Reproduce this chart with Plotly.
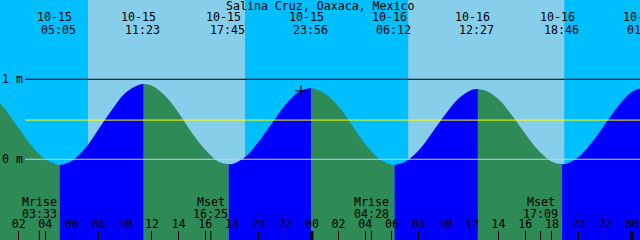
import plotly.graph_objects as go

# ---------------- data ----------------
title = "Salina Cruz, Oaxaca, Mexico"

# hours since 10-15 00:00 local, tide level (m)
hours = list(range(0, 50))
level = [0.81, 0.62, 0.39, 0.16, 0.00, -0.07, -0.02, 0.14, 0.38, 0.62,
         0.83, 0.93, 0.92, 0.79, 0.58, 0.33, 0.12, -0.03, -0.06, 0.03,
         0.22, 0.45, 0.68, 0.84, 0.89, 0.82, 0.66, 0.43, 0.19, 0.01,
         -0.07, -0.03, 0.11, 0.33, 0.56, 0.76, 0.87, 0.86, 0.75, 0.55,
         0.32, 0.11, -0.03, -0.06, 0.03, 0.21, 0.44, 0.67, 0.84, 0.90]

# high / low waters
ext_time = [5.083, 11.383, 17.75, 23.933, 30.2, 36.45, 42.767, 49.05]
ext_level = [-0.07, 0.94, -0.06, 0.89, -0.07, 0.88, -0.06, 0.90]
ext_date = ["10-15", "10-15", "10-15", "10-15", "10-16", "10-16", "10-16", "10-17"]
ext_clock = ["05:05", "11:23", "17:45", "23:56", "06:12", "12:27", "18:46", "01:03"]

# sun
sunrise = [7.20, 31.22]
sunset = [18.98, 42.93]

# moon
moon_time = [3.55, 16.417, 28.467, 41.15]
moon_kind = ["Mrise", "Mset", "Mrise", "Mset"]
moon_clock = ["03:33", "16:25", "04:28", "17:09"]

# reference levels
mean_level = 0.49
datum_levels = [0, 1]
datum_labels = ["0 m", "1 m"]

# current time marker
now_time = 23.17
now_level = 0.855

# hour ticks
tick_hours = [2, 4, 6, 8, 10, 12, 14, 16, 18, 20, 22, 24,
              26, 28, 30, 32, 34, 36, 38, 40, 42, 44, 46, 48]
tick_text = ["02", "04", "06", "08", "10", "12", "14", "16", "18", "20", "22", "00",
             "02", "04", "06", "08", "10", "12", "14", "16", "18", "20", "22", "00"]
midnights = [24, 48]

# ---------------- styles ----------------
NIGHT = "#00BFFF"
DAY = "#87CEEB"
FLOOD = "#0000FF"
EBB = "#2E8B57"
FONT = dict(family="DejaVu Sans Mono", size=11.6, color="black")
W, H = 640, 240
X_RANGE = [0.60, 48.61]
Y_RANGE = [-1.009, 1.991]
BASE = -2.0
PX_PER_HOUR = W / (X_RANGE[1] - X_RANGE[0])

fig = go.Figure()

# tide fill, split at each high/low water
pts = sorted(list(zip(hours, level)) + list(zip(ext_time, ext_level)))
bounds = [hours[0]] + ext_time
for i in range(len(bounds) - 1):
    a, b = bounds[i], bounds[i + 1]
    seg = [(t, h) for t, h in pts if a <= t <= b]
    rising = seg[-1][1] > seg[0][1]
    col = FLOOD if rising else EBB
    fig.add_trace(go.Scatter(x=[a, b], y=[BASE, BASE], mode="lines",
                             line=dict(width=0, color=col), hoverinfo="skip",
                             showlegend=False))
    fig.add_trace(go.Scatter(x=[p[0] for p in seg], y=[p[1] for p in seg],
                             mode="lines", line=dict(width=0, color=col, shape="spline"),
                             fill="tonexty", fillcolor=col, hoverinfo="skip",
                             showlegend=False))

# now marker
fig.add_trace(go.Scatter(x=[now_time], y=[now_level], mode="markers",
                         marker=dict(symbol="cross-thin", size=8,
                                     line=dict(width=1, color="black")),
                         hoverinfo="skip", showlegend=False))

shapes = []
for sr, ss in zip(sunrise, sunset):
    shapes.append(dict(type="rect", xref="x", yref="paper", x0=sr, x1=ss, y0=0, y1=1,
                       fillcolor=DAY, line=dict(width=0), layer="below"))
# level lines
shapes.append(dict(type="line", xref="paper", yref="y", x0=25 / W, x1=1,
                   y0=datum_levels[1], y1=datum_levels[1],
                   line=dict(color="black", width=1)))
shapes.append(dict(type="line", xref="paper", yref="y", x0=25 / W, x1=1,
                   y0=mean_level, y1=mean_level, line=dict(color="#FFFF00", width=1)))
shapes.append(dict(type="line", xref="paper", yref="y", x0=25 / W, x1=1,
                   y0=datum_levels[0], y1=datum_levels[0],
                   line=dict(color="#b4d8e8", width=1)))
# moon ticks and midnight ticks
for mt in moon_time:
    shapes.append(dict(type="line", xref="x", yref="paper", x0=mt, x1=mt,
                       y0=0, y1=9 / H, line=dict(color="black", width=1)))
for md in midnights:
    shapes.append(dict(type="line", xref="x", yref="paper", x0=md, x1=md,
                       y0=0, y1=9 / H, line=dict(color="black", width=3)))


def time_anno(text, t, ypx, shift):
    # keep labels whose anchor lies just past the right edge (partly visible)
    xa = min(max(t, X_RANGE[0]), X_RANGE[1])
    return dict(text=text, x=xa, y=1 - ypx / H, xref="x", yref="paper",
                showarrow=False, font=FONT, xanchor="center", yanchor="middle",
                xshift=shift + (t - xa) * PX_PER_HOUR, borderpad=0)


annotations = [dict(text=title, x=0.5, y=1 - 6 / H, xref="paper", yref="paper",
                    showarrow=False, font=FONT, xanchor="center", yanchor="middle",
                    borderpad=0)]
for lv, lb in zip(datum_levels, datum_labels):
    annotations.append(dict(text=lb, x=0, y=lv, xref="paper", yref="y",
                            showarrow=False, font=FONT, xanchor="left",
                            yanchor="middle", borderpad=0, xshift=1))
for t, d, c in zip(ext_time, ext_date, ext_clock):
    annotations.append(time_anno(d, t, 17.5, -5))
    annotations.append(time_anno(c, t, 29.5, -1))
for t, k, c in zip(moon_time, moon_kind, moon_clock):
    annotations.append(time_anno(k, t, 201.7, 0))
    annotations.append(time_anno(c, t, 214.2, 0))

fig.update_layout(
    width=W, height=H, margin=dict(l=0, r=0, t=0, b=0, pad=0),
    paper_bgcolor=NIGHT, plot_bgcolor=NIGHT,
    shapes=shapes, annotations=annotations, showlegend=False,
    xaxis=dict(range=X_RANGE, showgrid=False, zeroline=False, showline=False,
               ticks="inside", ticklen=9, tickwidth=1, tickcolor="black",
               tickvals=tick_hours, ticktext=tick_text, ticklabelposition="inside",
               tickfont=FONT, fixedrange=True),
    yaxis=dict(range=Y_RANGE, showgrid=False, zeroline=False, showline=False,
               ticks="", showticklabels=False, fixedrange=True),
)

fig.write_html("out.html")
